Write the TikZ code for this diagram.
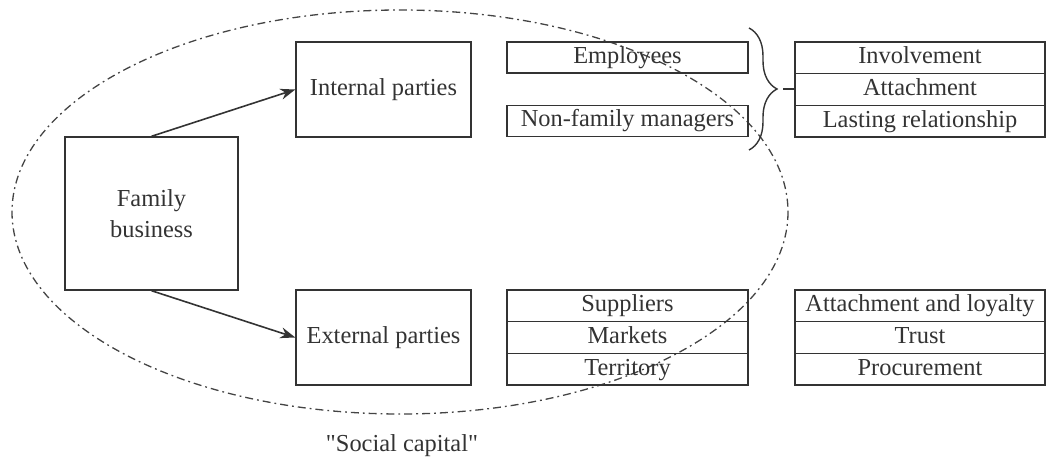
\documentclass[tikz,border=0pt]{standalone}
\usepackage{fontspec}
\setmainfont{Liberation Serif}[Ligatures=TeXOff]
\usetikzlibrary{arrows.meta,decorations.pathreplacing}
\definecolor{ink}{HTML}{333333}
\definecolor{dashink}{HTML}{444444}
\begin{document}
\begin{tikzpicture}[x=0.5pt,y=-0.5pt,
  every node/.style={font=\fontsize{12.2}{15.5}\selectfont, text=ink},
  box/.style={draw=ink, line width=0.7pt, rectangle, inner sep=0pt, align=center},
  party/.style={box, minimum width=87.5pt, minimum height=47.5pt},
  cell/.style={box, minimum width=120.5pt, minimum height=15.8pt, text height=8.6pt, text depth=2.6pt},
  rcell/.style={cell, minimum width=125pt},
  link/.style={draw=ink, line width=0.8pt, -{Stealth[length=7.5pt,width=5.5pt]}},
  capital/.style={draw=dashink, line width=0.65pt, dash pattern=on 4pt off 2pt on 0.9pt off 2pt}
]
\useasboundingbox (0,0) rectangle (1055,459);

% the "social capital" envelope
\draw[capital] (400,212) ellipse [x radius=388, y radius=202];

% main boxes
\node[box, minimum width=86.5pt, minimum height=76.5pt] (fam) at (151.5,213.5) {Family\\business};
\node[party] (int) at (383.5,89.5) {Internal parties};
\node[party] (ext) at (383.5,337.5) {External parties};

\draw[link] (fam.north) -- (int.west);
\draw[link] (fam.south) -- (ext.west);

% internal parties
\node[cell, minimum height=15.5pt] (emp) at (627.5,57.5) {Employees};
\node[cell, minimum height=15.5pt] (nfm) at (627.5,121) {Non-family managers};

\node[rcell] (inv) at (920,57.8) {Involvement};
\node[rcell] (att) at (920,89.5) {Attachment};
\node[rcell] (last) at (920,121.2) {Lasting relationship};

\coordinate (bt) at (749,28);
\coordinate (bb) at (749,150);
\draw[draw=ink, line width=0.7pt, decorate, decoration={brace, amplitude=14pt}] (bt) -- (bb);
\coordinate (tip) at (783,89.5);
\draw[draw=ink, line width=1pt] (tip) -- (att.west);

% external parties
\node[cell] (sup) at (627.5,305.8) {Suppliers};
\node[cell] (mkt) at (627.5,337.5) {Markets};
\node[cell] (ter) at (627.5,369.2) {Territory};

\node[rcell] (loy) at (920,305.8) {Attachment and loyalty};
\node[rcell] (tru) at (920,337.5) {Trust};
\node[rcell] (pro) at (920,369.2) {Procurement};

\node (sc) at (402,446) {"Social capital"};
\end{tikzpicture}
\end{document}
